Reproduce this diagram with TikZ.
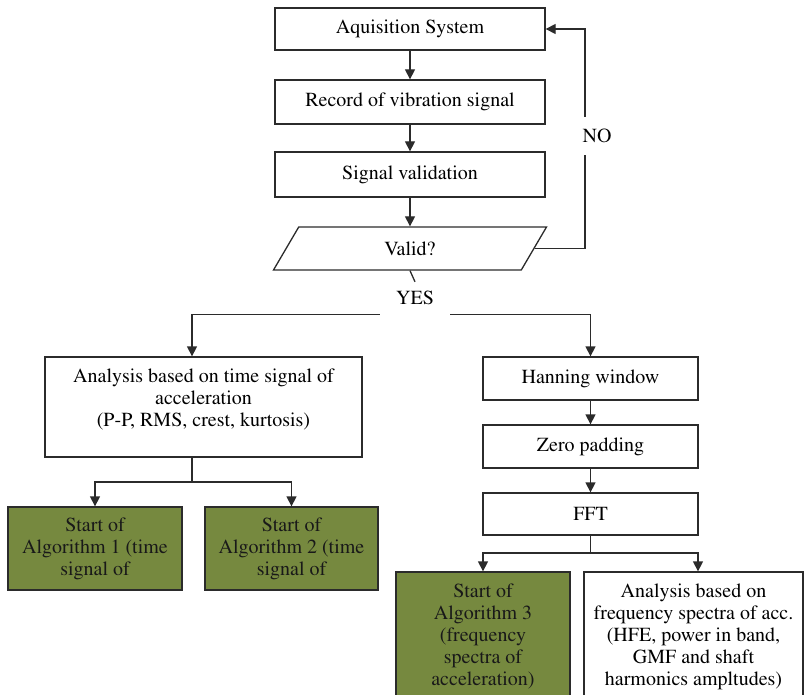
\documentclass[tikz,border=0pt]{standalone}
\usepackage[T1]{fontenc}
\usepackage{mathptmx}
\usetikzlibrary{arrows.meta,shapes.geometric}

\definecolor{algGreen}{HTML}{76893F}
\definecolor{lineGray}{HTML}{2B2B2B}

\begin{document}
\begin{tikzpicture}[
        x=1pt,
        y=-1pt,
        font=\fontsize{20}{22}\selectfont,
        box-step/.style={
            draw=lineGray,
            line width=1.3pt,
            align=center,
            inner sep=2pt,
        },
        box-algo/.style={
            box-step,
            fill=algGreen,
            text=black!90,
        },
        box-test/.style={
            draw=lineGray,
            line width=1.3pt,
            trapezium,
            trapezium left angle=39,
            trapezium right angle=141,
            trapezium stretches body,
            minimum width=273,
            minimum height=43,
        },
        link-line/.style={
            draw=lineGray,
            line width=1.3pt,
        },
        link-arrow/.style={
            link-line,
            -{Triangle[width=10pt,length=10pt]},
        },
    ]

    \useasboundingbox (0,0) rectangle (805,695);

    % Acquisition chain.
    \node[box-step, minimum width=270, minimum height=42] (acq) at (410,29) {Aquisition System};
    \node[box-step, minimum width=270, minimum height=44] (rec) at (410,102) {Record of vibration signal};
    \node[box-step, minimum width=270, minimum height=45] (sig) at (410,174.5) {Signal validation};
    \node[box-test] (valid) at (410,248.5) {Valid?};

    % Branch labels.
    \node[minimum width=70, minimum height=32, inner sep=0pt] (yes) at (415,298) {YES};
    \node[minimum width=24, minimum height=38, inner sep=0pt] (no) at (597,136) {NO};

    % Time signal branch.
    \node[box-step, minimum width=317, minimum height=100, text depth=19pt] (time) at (203.5,407)
        {Analysis based on time signal of\\acceleration\\(P-P, RMS, crest, kurtosis)};
    \node[box-algo, minimum width=174, minimum height=83] (alg1) at (95,548.5)
        {Start of\\Algorithm 1 (time\\signal of};
    \node[box-algo, minimum width=173, minimum height=83] (alg2) at (291.5,548.5)
        {Start of\\Algorithm 2 (time\\signal of};

    % Frequency branch.
    \node[box-step, minimum width=215, minimum height=43] (hann) at (590.5,378.5) {Hanning window};
    \node[box-step, minimum width=215, minimum height=43] (zero) at (590.5,446.5) {Zero padding};
    \node[box-step, minimum width=215, minimum height=42] (fft) at (590.5,514) {FFT};
    \node[box-algo, minimum width=174, minimum height=130] (alg3) at (483,637)
        {Start of\\Algorithm 3\\(frequency\\spectra of\\acceleration)};
    \node[box-step, minimum width=219, minimum height=130] (freq) at (693.5,637)
        {Analysis based on\\frequency spectra of acc.\\(HFE, power in band,\\GMF and shaft\\harmonics ampltudes)};

    % Straight links.
    \foreach \a/\b in {acq/rec, rec/sig, sig/valid, hann/zero, zero/fft}
    \draw[link-arrow] (\a) -- (\b);

    % Decision links.
    \draw[link-line] (valid.south) -- (yes.north);
    \draw[link-arrow] (yes.south west) -| ([xshift=-11.5pt]time.north);
    \draw[link-arrow] (yes.south east) -| (hann.north);
    \draw[link-line] (valid.east) -| ([xshift=-12pt]no.south);
    \draw[link-arrow] ([xshift=-12pt]no.north) |- (acq.east);

    % Splits to the algorithms.
    \coordinate (time-split) at (192,482);
    \coordinate (fft-split) at (590.5,553);
    \draw[link-line] ([xshift=-11.5pt]time.south) -- (time-split);
    \foreach \b in {alg1, alg2}
    \draw[link-arrow] (time-split) -| (\b.north);
    \draw[link-line] (fft.south) -- (fft-split);
    \draw[link-arrow] (fft-split) -| (alg3.north);
    \draw[link-arrow] (fft-split) -| ([xshift=4.5pt]freq.north);
\end{tikzpicture}
\end{document}
